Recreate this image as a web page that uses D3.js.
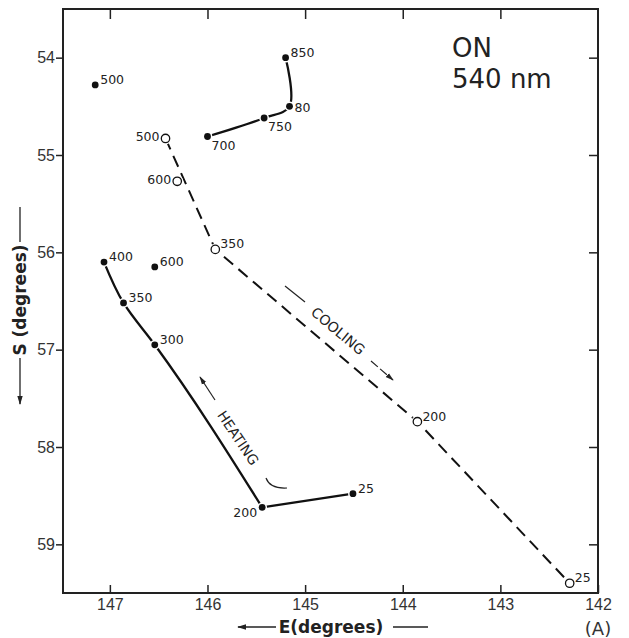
<!DOCTYPE html>
<html>
<head>
<meta charset="utf-8">
<script src="https://cdn.jsdelivr.net/npm/d3@7"></script>
<style>
body { margin: 0; background: #fff; }
</style>
</head>
<body>
<div id="chart"></div>
<script>
// E(degrees) runs right to left, S(degrees) runs top to bottom
let xTicks = [147, 146, 145, 144, 143, 142]
let yTicks = [54, 55, 56, 57, 58, 59]

// heating, upper branch (filled dots)
let heatTopT = ["700", "750", "80", "850"]
let heatTopE = [146.0, 145.42, 145.16, 145.2]
let heatTopS = [54.81, 54.62, 54.50, 54.0]
let heatTopPos = ["se", "se", "e", "ne"]

// heating, lower branch (filled dots)
let heatLowT = ["400", "350", "300", "200", "25"]
let heatLowE = [147.06, 146.86, 146.54, 145.44, 144.51]
let heatLowS = [56.10, 56.52, 56.95, 58.62, 58.48]
let heatLowPos = ["ne", "ne", "ne", "sw", "ne"]

// heating, points not joined
let heatLooseT = ["500", "600"]
let heatLooseE = [147.15, 146.54]
let heatLooseS = [54.28, 56.15]
let heatLoosePos = ["ne", "ne"]

// cooling (open circles)
let coolT = ["500", "600", "350", "200", "25"]
let coolE = [146.43, 146.31, 145.92, 143.85, 142.29]
let coolS = [54.83, 55.27, 55.97, 57.74, 59.40]
let coolPos = ["w", "w", "ne", "ne", "ne"]
let coolOnLine = ["500", "350", "200", "25"]

let rows = (T, E, S, P) => T.map((t, i) => ({t: t, e: E[i], s: S[i], p: P[i]}))
let heatTop = rows(heatTopT, heatTopE, heatTopS, heatTopPos)
let heatLow = rows(heatLowT, heatLowE, heatLowS, heatLowPos)
let heatLoose = rows(heatLooseT, heatLooseE, heatLooseS, heatLoosePos)
let cool = rows(coolT, coolE, coolS, coolPos)

let W = 629, H = 638
let mLeft = 63, mRight = 598, mTop = 9, mBottom = 593

let svg = d3.select("#chart").append("svg")
svg.attr("width", W)
svg.attr("height", H)
svg.style("font-family", "'DejaVu Sans', sans-serif")

let defs = svg.append("defs")
defs.append("marker")
   .attr("id", "head")
   .attr("viewBox", "0 0 10 10")
   .attr("refX", 9).attr("refY", 5)
   .attr("markerWidth", 7).attr("markerHeight", 7)
   .attr("orient", "auto")
   .append("path")
   .attr("d", "M0,2 L10,5 L0,8 Z")
   .style("fill", "#222")

let x = d3.scaleLinear().domain([147.48, 142]).range([mLeft, mRight])
let y = d3.scaleLinear().domain([53.5, 59.5]).range([mTop, mBottom])

// axes
let tickFont = "'Liberation Sans', sans-serif"

let gx = svg.append("g").attr("transform", "translate(0," + mBottom + ")")
   .call(d3.axisBottom(x).tickValues(xTicks).tickSizeInner(-8).tickSizeOuter(0).tickPadding(6).tickFormat(d3.format("d")))
let gy = svg.append("g").attr("transform", "translate(" + mLeft + ",0)")
   .call(d3.axisLeft(y).tickValues(yTicks).tickSizeInner(7).tickSizeOuter(0).tickPadding(1).tickFormat(d3.format("d")))
let gt = svg.append("g").attr("transform", "translate(0," + mTop + ")")
   .call(d3.axisTop(x).tickValues(xTicks.slice(0, 5)).tickSizeInner(-10).tickSizeOuter(0).tickFormat(""))
let gr = svg.append("g").attr("transform", "translate(" + mRight + ",0)")
   .call(d3.axisRight(y).tickValues(yTicks).tickSizeInner(-9).tickSizeOuter(0).tickFormat(""))

for (let g of [gx, gy, gt, gr]) {
  g.select(".domain").remove()
  g.selectAll(".tick line").style("stroke", "#222").style("stroke-width", 1.5)
  g.selectAll(".tick text")
   .style("font-family", tickFont)
   .style("font-size", "16px")
   .style("fill", "#333")
}

svg.append("rect")
   .attr("x", mLeft).attr("y", mTop)
   .attr("width", mRight - mLeft).attr("height", mBottom - mTop)
   .style("fill", "none")
   .style("stroke", "#222")
   .style("stroke-width", 2)

// curves
let lineCurve = d3.line().x(d => x(d.e)).y(d => y(d.s)).curve(d3.curveCatmullRom.alpha(0.5))
let lineMono = d3.line().x(d => x(d.e)).y(d => y(d.s)).curve(d3.curveMonotoneY)
let lineStraight = d3.line().x(d => x(d.e)).y(d => y(d.s))

let plot = svg.append("g")

plot.append("path").attr("d", lineCurve(heatTop))
   .style("fill", "none").style("stroke", "#111").style("stroke-width", 2.3)
plot.append("path").attr("d", lineMono(heatLow.slice(0, 4)))
   .style("fill", "none").style("stroke", "#111").style("stroke-width", 2.3)
plot.append("path").attr("d", lineStraight(heatLow.slice(3)))
   .style("fill", "none").style("stroke", "#111").style("stroke-width", 2.3)
plot.append("path").attr("d", lineStraight(cool.filter(d => coolOnLine.includes(d.t))))
   .style("fill", "none").style("stroke", "#111").style("stroke-width", 2)
   .style("stroke-dasharray", "12,7")

// dots
let filled = heatTop.concat(heatLow, heatLoose)
plot.selectAll("circle.filled").data(filled).enter().append("circle")
   .attr("class", "filled")
   .attr("cx", d => x(d.e)).attr("cy", d => y(d.s))
   .attr("r", 3.4)
   .attr("paint-order", "stroke")
   .style("fill", "#111").style("stroke", "#fff").style("stroke-width", 3)

plot.selectAll("circle.halo").data(cool).enter().append("circle")
   .attr("class", "halo")
   .attr("cx", d => x(d.e)).attr("cy", d => y(d.s))
   .attr("r", 6).style("fill", "#fff")
plot.selectAll("circle.open").data(cool).enter().append("circle")
   .attr("class", "open")
   .attr("cx", d => x(d.e)).attr("cy", d => y(d.s))
   .attr("r", 4.2)
   .style("fill", "#fff").style("stroke", "#111").style("stroke-width", 1.3)

// temperature labels
let place = {
  ne: [5, -1, "start"],
  e:  [5, 6, "start"],
  se: [4, 13, "start"],
  w:  [-6, 3, "end"],
  sw: [-5, 10, "end"]
}
plot.selectAll("text.lab").data(filled.concat(cool)).enter().append("text")
   .attr("class", "lab")
   .attr("x", d => x(d.e) + place[d.p][0])
   .attr("y", d => y(d.s) + place[d.p][1])
   .attr("text-anchor", d => place[d.p][2])
   .style("font-size", "12.5px")
   .style("fill", "#222")
   .text(d => d.t)

// ON 540 nm
svg.append("text").attr("x", 452).attr("y", 57)
   .style("font-size", "26px").style("fill", "#222").text("ON")
svg.append("text").attr("x", 452).attr("y", 88)
   .style("font-size", "26px").style("fill", "#222").text("540 nm")

// HEATING annotation
let hg = svg.append("g").attr("transform", "translate(238,438)")
hg.append("text").attr("transform", "rotate(56)")
   .attr("text-anchor", "middle").attr("dy", "0.35em")
   .style("font-size", "14px").style("fill", "#222")
   .text("HEATING")
hg.append("line").attr("x1", -23).attr("y1", -38).attr("x2", -38).attr("y2", -61)
   .style("stroke", "#222").style("stroke-width", 1.2)
   .attr("marker-end", "url(#head)")
hg.append("path").attr("d", "M28,40 Q32,51 49,50")
   .style("fill", "none").style("stroke", "#222").style("stroke-width", 1.2)

// COOLING annotation
let cg = svg.append("g").attr("transform", "translate(338,331)")
cg.append("text").attr("transform", "rotate(40)")
   .attr("text-anchor", "middle").attr("dy", "0.35em")
   .style("font-size", "14px").style("fill", "#222")
   .text("COOLING")
cg.append("line").attr("x1", -53).attr("y1", -45).attr("x2", -33).attr("y2", -29)
   .style("stroke", "#222").style("stroke-width", 1.2)
cg.append("line").attr("x1", 33).attr("y1", 30).attr("x2", 55).attr("y2", 49)
   .style("stroke", "#222").style("stroke-width", 1.2)
   .style("stroke-dasharray", "9,3")
   .attr("marker-end", "url(#head)")

// axis titles
svg.append("text").attr("x", 331).attr("y", 633)
   .attr("text-anchor", "middle")
   .style("font-size", "17px").style("font-weight", "bold").style("fill", "#222")
   .text("E(degrees)")
svg.append("line").attr("x1", 276).attr("y1", 627).attr("x2", 238).attr("y2", 627)
   .style("stroke", "#222").style("stroke-width", 1.3)
   .attr("marker-end", "url(#head)")
svg.append("line").attr("x1", 393).attr("y1", 627).attr("x2", 428).attr("y2", 627)
   .style("stroke", "#222").style("stroke-width", 1.3)

svg.append("text").attr("transform", "translate(20,300) rotate(-90)")
   .attr("text-anchor", "middle").attr("dy", "0.35em")
   .style("font-size", "17px").style("font-weight", "bold").style("fill", "#222")
   .text("S (degrees)")
svg.append("line").attr("x1", 20).attr("y1", 207).attr("x2", 20).attr("y2", 242)
   .style("stroke", "#222").style("stroke-width", 1.3)
svg.append("line").attr("x1", 20).attr("y1", 358).attr("x2", 20).attr("y2", 404)
   .style("stroke", "#222").style("stroke-width", 1.3)
   .attr("marker-end", "url(#head)")

svg.append("text").attr("x", 598).attr("y", 635)
   .attr("text-anchor", "middle")
   .style("font-size", "18px").style("fill", "#333")
   .text("(A)")
</script>
</body>
</html>
